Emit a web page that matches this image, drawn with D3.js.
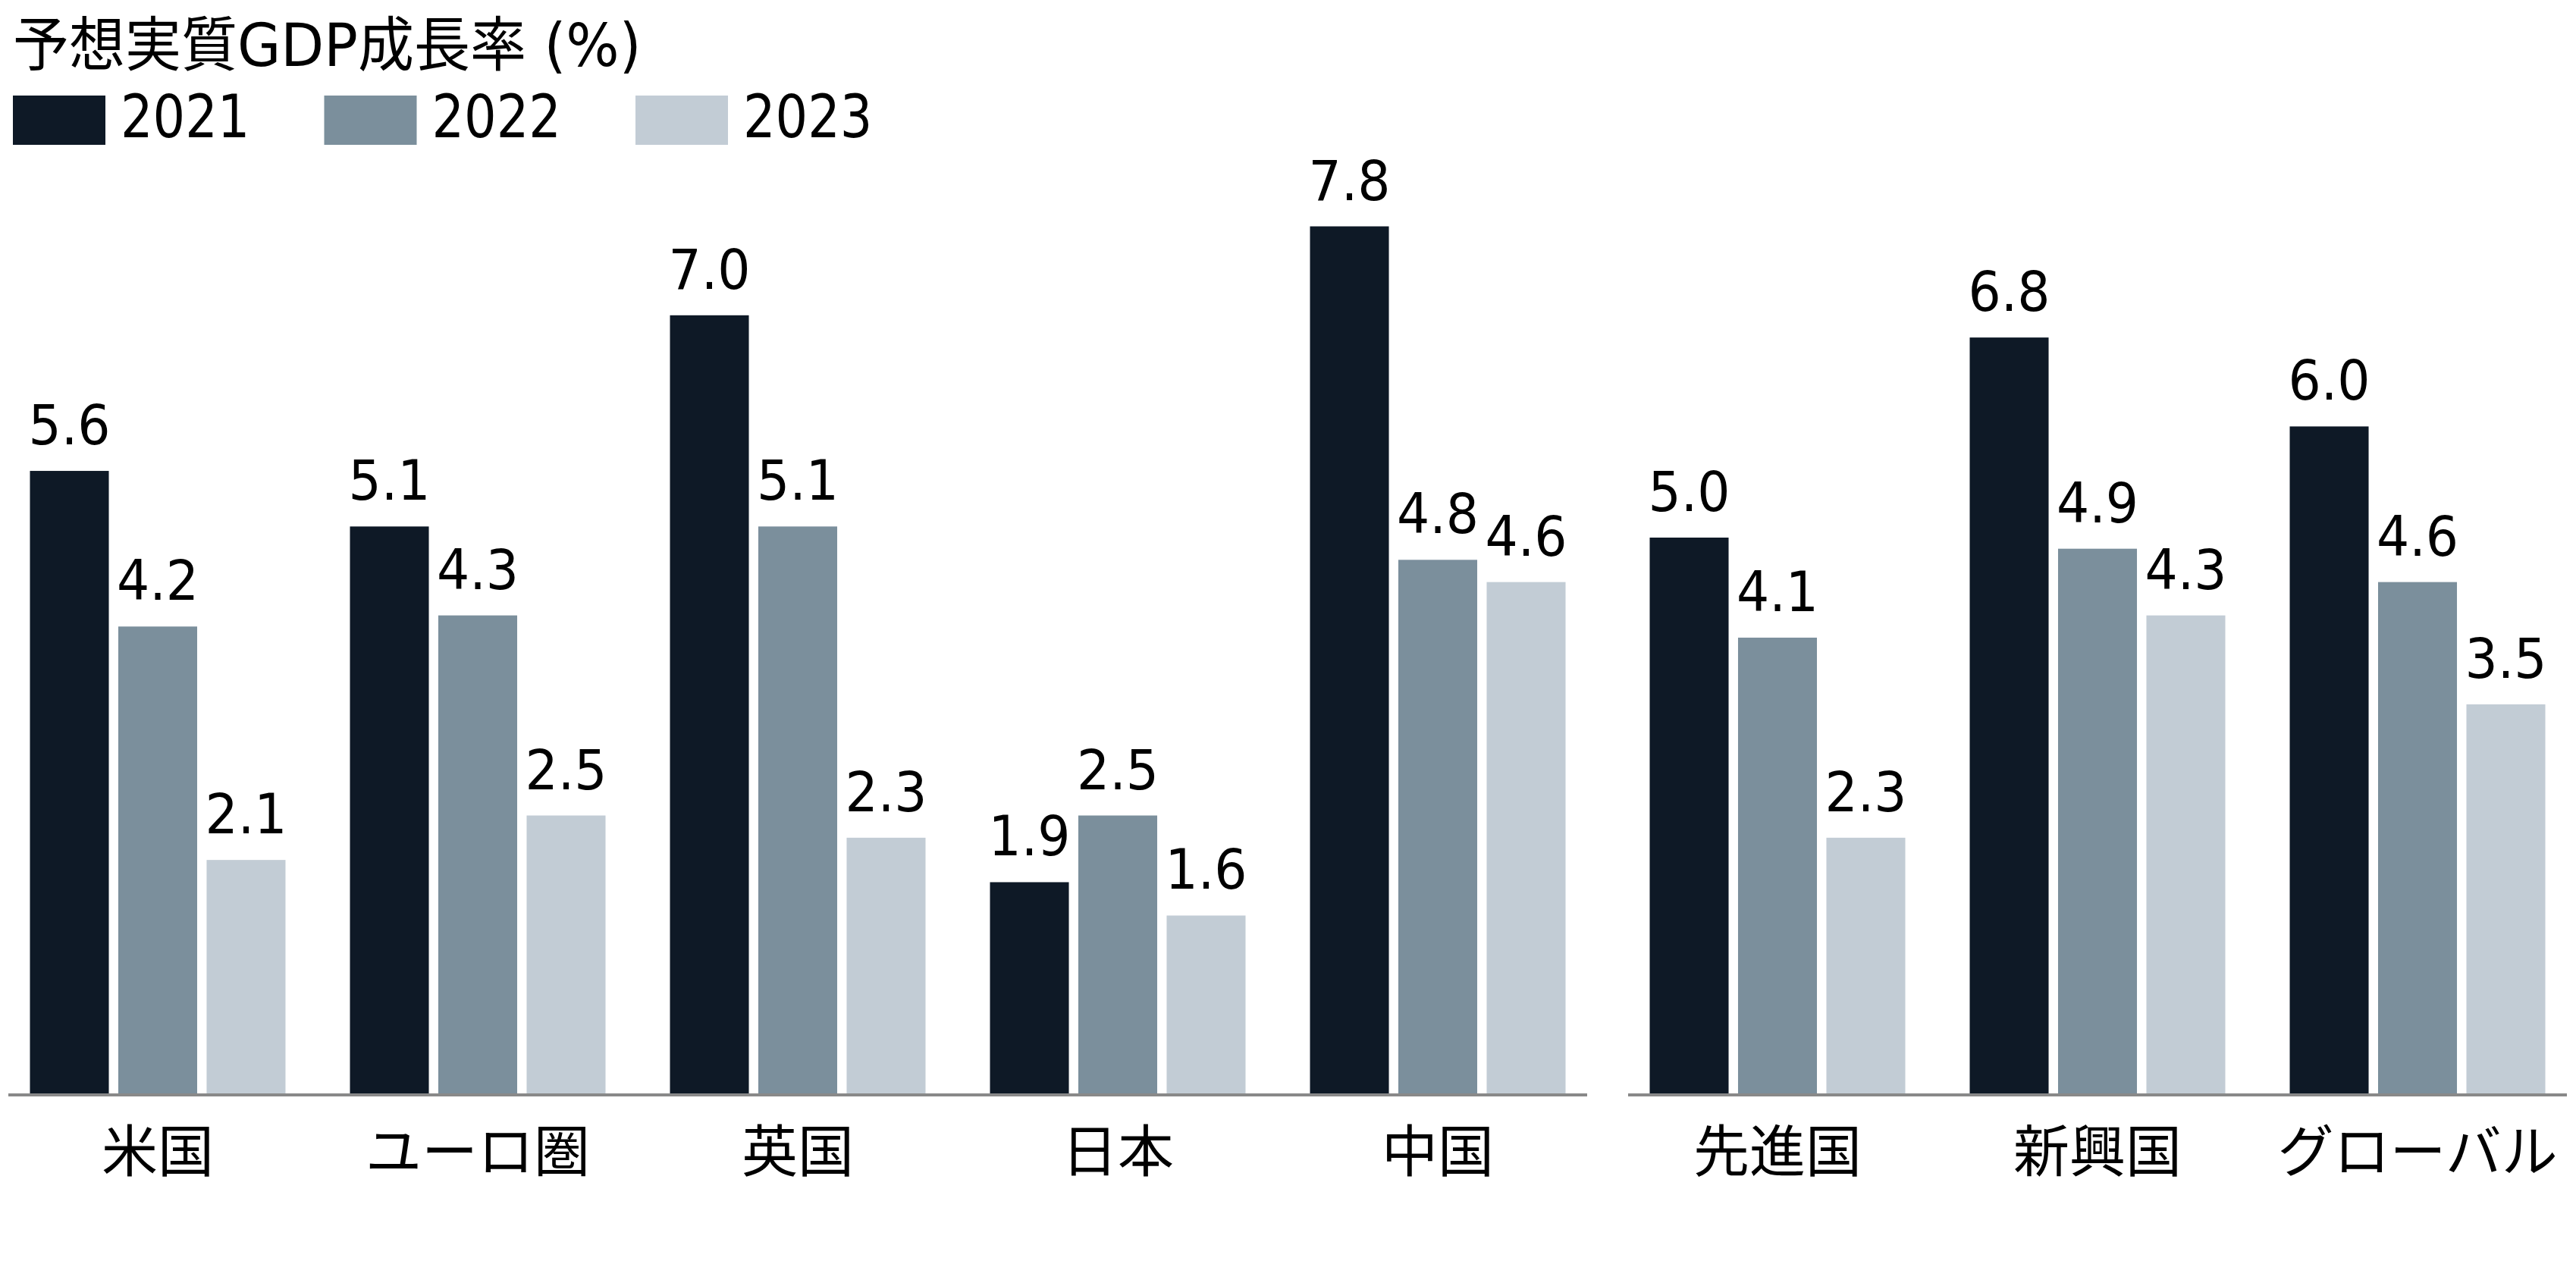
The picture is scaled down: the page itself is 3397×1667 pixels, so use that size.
<!DOCTYPE html>
<html>
<head>
<meta charset="utf-8">
<script src="https://cdn.jsdelivr.net/npm/d3@7"></script>
<style>
  body { margin: 0; background: #fff; }
  svg { display: block; }
</style>
</head>
<body>
<div id="chart"></div>
<script>
// data
const years = ["2021", "2022", "2023"];
const leftRegions = ["米国", "ユーロ圏", "英国", "日本", "中国"];
const rightRegions = ["先進国", "新興国", "グローバル"];
const values2021 = [5.6, 5.1, 7.0, 1.9, 7.8, 5.0, 6.8, 6.0];
const values2022 = [4.2, 4.3, 5.1, 2.5, 4.8, 4.1, 4.9, 4.6];
const values2023 = [2.1, 2.5, 2.3, 1.6, 4.6, 2.3, 4.3, 3.5];
const title = "予想実質GDP成長率 (%)";

const width = 3397, height = 1667;
const baseY = 1442;
const latin = "'DejaVu Sans', 'Noto Sans CJK JP', sans-serif";
const cjk = "'Noto Sans CJK JP', 'DejaVu Sans', sans-serif";

const allRegions = leftRegions.concat(rightRegions);
const series = [values2021, values2022, values2023];
const rows = allRegions.map((r, i) => ({
    region: r,
    vals: years.map((y, j) => ({ year: y, value: series[j][i] }))
}));

const color = d3.scaleOrdinal()
    .domain(years)
    .range(["#0e1926", "#7b8f9c", "#c2ccd5"]);

const svg = d3.select("#chart")
    .append("svg")
    .attr("width", width)
    .attr("height", height);

const y = d3.scaleLinear()
    .domain([0, 7.8])
    .range([baseY, baseY - 7.8 * 146.6]);

// title
svg.append("text")
    .attr("transform", "translate(17,87) scale(1,1.06)")
    .attr("font-family", latin)
    .attr("font-size", 74)
    .attr("fill", "#000")
    .text(title);

// legend
const legendX = d3.scalePoint().domain(years).range([17, 838]);
const legend = svg.selectAll("g.legend")
    .data(years)
    .join("g")
    .attr("class", "legend")
    .attr("transform", d => `translate(${legendX(d)},126)`);

legend.append("rect")
    .attr("width", 122)
    .attr("height", 65)
    .attr("fill", d => color(d));

legend.append("text")
    .attr("transform", "translate(142,55) scale(1,1.16)")
    .attr("font-family", latin)
    .attr("font-size", 67)
    .attr("fill", "#000")
    .text(d => d);

// one panel per group of regions
function drawPanel(regions, x0, x1) {
    const x = d3.scaleBand()
        .domain(regions)
        .range([x0, x1])
        .paddingInner(0.2014)
        .paddingOuter(0.0675);

    const xs = d3.scaleBand()
        .domain(years)
        .range([0, x.bandwidth()])
        .paddingInner(0.107);

    const g = svg.append("g");
    const groups = g.selectAll("g.grp")
        .data(rows.filter(d => regions.includes(d.region)))
        .join("g")
        .attr("class", "grp")
        .attr("transform", d => `translate(${x(d.region)},0)`);

    groups.selectAll("rect")
        .data(d => d.vals)
        .join("rect")
        .attr("x", d => xs(d.year))
        .attr("y", d => y(d.value))
        .attr("width", xs.bandwidth())
        .attr("height", d => baseY - y(d.value))
        .attr("fill", d => color(d.year));

    groups.selectAll("text.val")
        .data(d => d.vals)
        .join("text")
        .attr("class", "val")
        .attr("transform", d => `translate(${xs(d.year) + xs.bandwidth() / 2},${y(d.value) - 35}) scale(1,1.08)`)
        .attr("text-anchor", "middle")
        .attr("font-family", latin)
        .attr("font-size", 68)
        .attr("fill", "#000")
        .text(d => d.value.toFixed(1));

    // axis line + category labels
    const axis = g.append("g")
        .attr("transform", `translate(0,${baseY})`)
        .call(d3.axisBottom(x).tickSize(0).tickPadding(0));

    axis.select(".domain")
        .attr("stroke", "#898989")
        .attr("stroke-width", 4)
        .attr("d", `M${x0},2H${x1}`);

    axis.selectAll(".tick text")
        .attr("y", 103)
        .attr("dy", null)
        .attr("font-family", cjk)
        .attr("font-size", 74)
        .attr("fill", "#000");
}

drawPanel(leftRegions, 11, 2093);
drawPanel(rightRegions, 2147, 3385);
</script>
</body>
</html>
